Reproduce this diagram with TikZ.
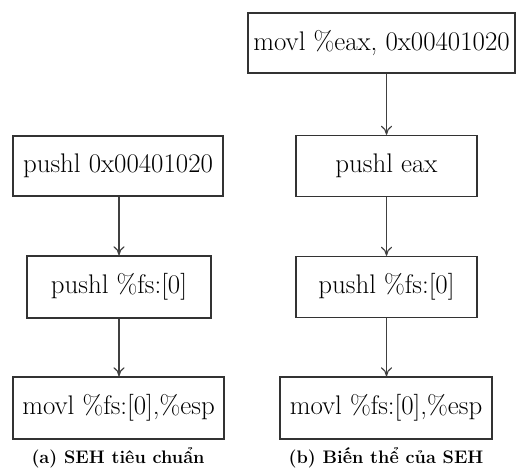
\documentclass[tikz,border=0pt]{standalone}
\usepackage{fontspec}
\usetikzlibrary{arrows.meta}
\begin{document}
\begin{tikzpicture}[x=1bp,y=-1bp,
  box/.style={draw=black!80, line width=1.4bp, rectangle, inner sep=0pt,
    font=\fontsize{27}{31}\selectfont},
  conn/.style={draw=black!75, line width=1.1bp, -{To[length=9bp,width=11bp]}},
  captext/.style={font=\fontsize{18.2}{22}\selectfont\bfseries}]
\useasboundingbox (0,0) rectangle (517,468);
% left column
\node[box, minimum width=210bp, minimum height=60bp] (L1) at (118,166) {pushl 0x00401020};
\node[box, minimum width=184bp, minimum height=62bp] (L2) at (119,287) {pushl \%fs:[0]};
\node[box, minimum width=211bp, minimum height=62bp] (L3) at (118.5,408) {movl \%fs:[0],\%esp};
\node[captext] (ca) at (118,458) {(a) SEH tiêu chuẩn};
% right column
\node[box, minimum width=267bp, minimum height=60bp] (R0) at (381.5,43) {movl \%eax, 0x00401020};
\node[box, minimum width=181bp, minimum height=61bp] (R1) at (386.5,166) {pushl eax};
\node[box, minimum width=181bp, minimum height=61bp] (R2) at (386.5,287) {pushl \%fs:[0]};
\node[box, minimum width=212bp, minimum height=62bp] (R3) at (386,408) {movl \%fs:[0],\%esp};
\node[captext] (cb) at (386,458) {(b) Biến thể của SEH};
% connectors
\draw[conn] (L1.south -| L2.north) -- (L2.north);
\draw[conn] (L2.south) -- (L2.south |- L3.north);
\draw[conn] (R0.south -| R1.north) -- (R1.north);
\draw[conn] (R1.south) -- (R2.north);
\draw[conn] (R2.south) -- (R2.south |- R3.north);
\end{tikzpicture}
\end{document}
